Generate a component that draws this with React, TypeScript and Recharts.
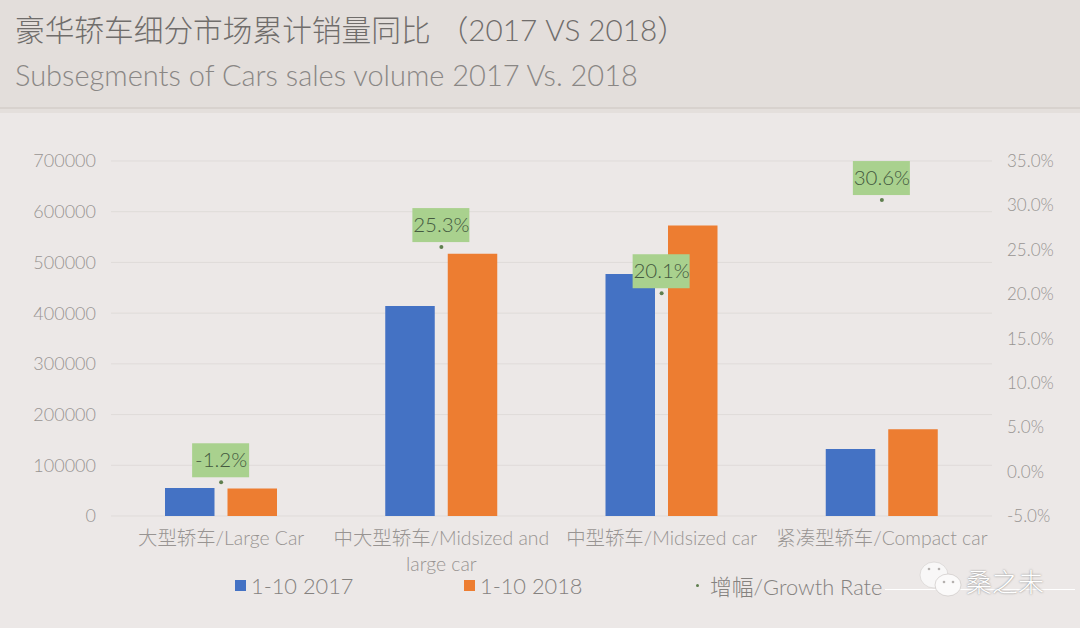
import { Bar, CartesianGrid, ComposedChart, Legend, LabelList, Line, XAxis, YAxis } from "recharts";

const categories = ["大型轿车/Large Car", "中大型轿车/Midsized and large car", "中型轿车/Midsized car", "紧凑型轿车/Compact car"];
const sales2017 = [55000, 414000, 477000, 132000];
const sales2018 = [54000, 517000, 573000, 171000];
const growthRate = [-1.2, 25.3, 20.1, 30.6];
const salesTicks = [0, 100000, 200000, 300000, 400000, 500000, 600000, 700000];
const growthTicks = [-5, 0, 5, 10, 15, 20, 25, 30, 35];
const wrappedLabels: Record<string, string[]> = {
  "中大型轿车/Midsized and large car": ["中大型轿车/Midsized and", "large car"],
};

const data = categories.map((name, i) => ({
  name,
  y2017: sales2017[i],
  y2018: sales2018[i],
  growth: growthRate[i],
}));

const FONT = "Lato, 'Noto Sans CJK SC', sans-serif";
const TICK_COLOR = "#989492";
const LEGEND_COLOR = "#85827f";

const CategoryTick = ({ x, y, payload }: any) => {
  const lines = wrappedLabels[payload.value] ?? [payload.value];
  return (
    <text x={x} y={y} textAnchor="middle" fill={TICK_COLOR} fontSize={19.4} fontWeight={300} fontFamily={FONT}>
      {lines.map((line, i) => (
        <tspan key={line} x={x} dy={i === 0 ? 21 : 26}>
          {line}
        </tspan>
      ))}
    </text>
  );
};

const GrowthLabel = ({ x, y, value }: any) => (
  <g>
    <rect x={x - 29} y={y - 39} width={57} height={34} fill="#a9d18e" />
    <text x={x} y={y - 15} textAnchor="middle" fill="#44593f" fontSize={20.5} fontWeight={300} fontFamily={FONT}>
      {value.toFixed(1)}%
    </text>
  </g>
);

const legendItems = [
  { label: "1-10 2017", color: "#4472c4", left: 235, size: 11 },
  { label: "1-10 2018", color: "#ed7d31", left: 464, size: 11 },
  { label: "增幅/Growth Rate", color: "#5f7f4f", left: 696, size: 3 },
];

const ChartLegend = () => (
  <div style={{ position: "relative", width: 1080, height: 30, fontFamily: FONT, fontSize: 21.8, fontWeight: 300, color: LEGEND_COLOR }}>
    {legendItems.map((item) => (
      <div key={item.label} style={{ position: "absolute", left: item.left, top: 0, height: 30, display: "flex", alignItems: "center", whiteSpace: "nowrap" }}>
        <span style={{ width: item.size, height: item.size, background: item.color, borderRadius: item.size < 5 ? "50%" : 0, marginRight: item.size < 5 ? 11 : 5 }} />
        {item.label}
      </div>
    ))}
  </div>
);

export default function App() {
  return (
    <div style={{ position: "absolute", left: 0, top: 0, width: 1080, height: 628, overflow: "hidden", background: "#ece8e7", fontFamily: FONT, fontWeight: 300 }}>
      <div style={{ position: "absolute", left: 0, top: 0, width: 1080, height: 107, background: "#e3dedb" }} />
      <div style={{ position: "absolute", left: 0, top: 107, width: 1080, height: 2, background: "#d8d2ce" }} />
      <div style={{ position: "absolute", left: 0, top: 109, width: 1080, height: 4, background: "#e4dfdc" }} />
      <div style={{ position: "absolute", left: 15, top: 7, fontSize: 29.7, color: "#706d6b", whiteSpace: "nowrap" }}>
        豪华轿车细分市场累计销量同比 （2017 VS 2018）
      </div>
      <div style={{ position: "absolute", left: 15, top: 57, fontSize: 29, color: "#8a8785", whiteSpace: "nowrap" }}>
        Subsegments of Cars sales volume 2017 Vs. 2018
      </div>

      <ComposedChart width={1080} height={628} data={data} margin={{ top: 161, right: 0, bottom: 0, left: 0 }} barSize={49.5} barGap={13}>
        <CartesianGrid vertical={false} stroke="#dfdbd9" yAxisId="sales" />
        <XAxis dataKey="name" height={112} interval={0} axisLine={false} tickLine={false} tick={<CategoryTick />} />
        <YAxis yAxisId="sales" width={111} domain={[0, 700000]} ticks={salesTicks} axisLine={false} tickLine={false} tickMargin={9} tick={{ fill: TICK_COLOR, fontSize: 18, fontWeight: 300, fontFamily: FONT }} />
        <YAxis yAxisId="growth" orientation="right" width={88} domain={[-5, 35]} ticks={growthTicks} axisLine={false} tickLine={false} tickMargin={9} tickFormatter={(v: number) => `${v.toFixed(1)}%`} tick={{ fill: TICK_COLOR, fontSize: 17, fontWeight: 300, fontFamily: FONT }} />
        <Bar yAxisId="sales" dataKey="y2017" fill="#4472c4" isAnimationActive={false} />
        <Bar yAxisId="sales" dataKey="y2018" fill="#ed7d31" isAnimationActive={false} />
        <Line yAxisId="growth" dataKey="growth" stroke="none" dot={{ r: 2, fill: "#5f7f4f", stroke: "none" }} isAnimationActive={false}>
          <LabelList dataKey="growth" content={<GrowthLabel />} />
        </Line>
        <Legend layout="horizontal" verticalAlign="middle" align="center" content={<ChartLegend />} wrapperStyle={{ left: 0, top: 570, width: 1080, height: 30 }} />
      </ComposedChart>

      {/* WeChat watermark */}
      <div style={{ position: "absolute", left: 885, top: 589, width: 190, height: 1, background: "#ffffff" }} />
      <svg style={{ position: "absolute", left: 918, top: 560 }} width={46} height={40}>
        <ellipse cx={16} cy={15} rx={14} ry={13} fill="#f8f7f7" stroke="#d0cccb" strokeWidth={0.6} />
        <ellipse cx={30} cy={25} rx={13} ry={11} fill="#fbfafa" stroke="#c4c0be" strokeWidth={0.6} />
        <circle cx={11} cy={9} r={1.3} fill="#b5b1af" />
        <circle cx={21} cy={9} r={1.3} fill="#b5b1af" />
        <circle cx={26} cy={22} r={1.3} fill="#b5b1af" />
        <circle cx={35} cy={22} r={1.3} fill="#b5b1af" />
      </svg>
      <div style={{ position: "absolute", left: 966, top: 562, fontSize: 26, color: "#fff", textShadow: "0 0 2px #777", whiteSpace: "nowrap" }}>桑之未</div>
    </div>
  );
}
